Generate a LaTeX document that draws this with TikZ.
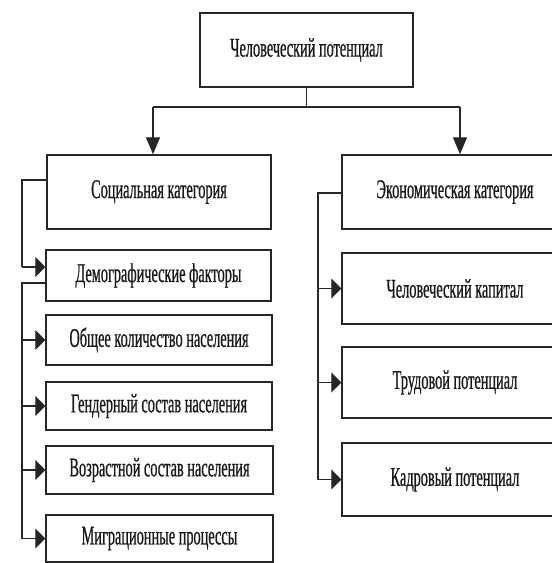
\documentclass[tikz,border=0pt]{standalone}
\usepackage{fontspec}
\setmainfont{Liberation Serif}[FakeStretch=0.53,FakeBold=0.6]
\usetikzlibrary{arrows.meta,calc}
\begin{document}
\begin{tikzpicture}[x=1pt,y=-1pt,
  box/.style={draw=black!85,line width=1.5pt,fill=white,inner sep=0pt,
    font=\fontsize{27}{30}\selectfont,text=black!90},
  conn/.style={draw=black!85,line width=1.3pt},
  harr/.style={conn,-{Triangle[length=10pt,width=20pt]}},
  varr/.style={conn,-{Triangle[length=17pt,width=14pt]}}]
\useasboundingbox (0,0) rectangle (552,563);
\fill[white] (0,0) rectangle (552,563);
% boxes
\node[box,minimum width=213pt,minimum height=74pt] (top) at (306.5,50) {Человеческий потенциал};
\node[box,minimum width=224pt,minimum height=74pt] (soc) at (159,192) {Социальная категория};
\node[box,minimum width=226pt,minimum height=74pt] (eco) at (455,192) {Экономическая категория};
\node[box,minimum width=225pt,minimum height=51pt] (demo) at (158.5,275.5) {Демографические факторы};
\node[box,minimum width=226pt,minimum height=50pt] (obsh) at (159,340) {Общее количество населения};
\node[box,minimum width=226pt,minimum height=48pt] (gend) at (159,406) {Гендерный состав населения};
\node[box,minimum width=227pt,minimum height=48pt] (vozr) at (159.5,470) {Возрастной состав населения};
\node[box,minimum width=227pt,minimum height=47pt] (migr) at (159.5,538.5) {Миграционные процессы};
\node[box,minimum width=226pt,minimum height=71pt] (hcap) at (455,288.5) {Человеческий капитал};
\node[box,minimum width=226pt,minimum height=71pt] (trud) at (455,382.5) {Трудовой потенциал};
\node[box,minimum width=226pt,minimum height=73pt] (kadr) at (455,479.5) {Кадровый потенциал};
% junction coordinates
\coordinate (jm) at (306.5,107);
\coordinate (jl) at (153,107);
\coordinate (jr) at (460,107);
\coordinate (sA) at (22,180);
\coordinate (sB) at (22,267);
\coordinate (sC) at (22,283);
\coordinate (eA) at (318,193);
% top split
\draw[conn] (top.south) -- (jm);
\draw[conn] (jl) -- (jr);
\draw[varr] (jl) -- (jl |- soc.north);
\draw[varr] (jr) -- (jr |- eco.north);
% social feedback to demographic
\draw[conn] (soc.west |- sA) -- (sA) -- (sB);
\draw[harr] (sB) -- (demo.west |- sB);
% demographic spine
\draw[conn] (demo.west |- sC) -- (sC) -- (sC |- migr.west);
\draw[harr] (sC |- obsh.west) -- (obsh.west);
\draw[harr] (sC |- gend.west) -- (gend.west);
\draw[harr] (sC |- vozr.west) -- (vozr.west);
\draw[harr] (sC |- migr.west) -- (migr.west);
% economic spine
\draw[conn] (eco.west |- eA) -- (eA) -- (eA |- kadr.west);
\draw[harr] (eA |- hcap.west) -- (hcap.west);
\draw[harr] (eA |- trud.west) -- (trud.west);
\draw[harr] (eA |- kadr.west) -- (kadr.west);
\end{tikzpicture}
\end{document}
